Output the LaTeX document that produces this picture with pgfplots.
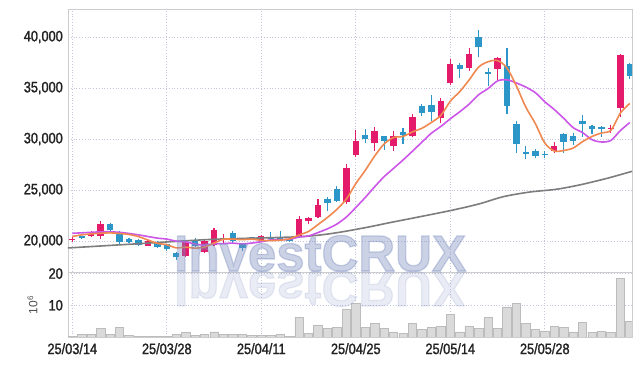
\documentclass[border=0pt]{standalone}
\usepackage{pgfplots}
\usepackage{pgfplotstable}
\pgfplotsset{compat=1.18}
\usepackage{fontspec}
\setmainfont{Liberation Sans}[FakeStretch=0.85, FakeBold=1.4]
\newfontfamily\wmfont{Liberation Sans}[BoldFeatures={FakeBold=2.5}]
\newfontfamily\plainfont{Liberation Sans}

\definecolor{cRed}{RGB}{228,26,106}
\definecolor{cBlue}{RGB}{44,150,200}
\definecolor{cOrange}{RGB}{240,136,80}
\definecolor{cPurple}{RGB}{203,86,232}
\definecolor{cGray}{RGB}{125,125,125}
\definecolor{gridc}{RGB}{196,198,222}
\definecolor{framec}{RGB}{205,205,205}
\definecolor{volfill}{RGB}{218,218,218}
\definecolor{voldraw}{RGB}{188,188,188}
\definecolor{wmc}{RGB}{120,138,189}
\definecolor{labc}{RGB}{34,34,34}

\pgfplotstableread{
x O H L C
0 20050 20420 19930 20200
2 20500 21000 20400 20650
3 20520 21960 20200 21670
8 19540 20100 19500 20000
12 18530 20120 18450 19930
14 18950 20100 18850 20000
15 19610 21250 19550 21110
16 20100 20700 19760 20260
20 20000 20600 19950 20490
24 20420 22480 20350 22130
25 21960 22380 21700 22220
26 22380 24090 22300 23530
29 23850 27550 23630 27130
30 28430 30880 28260 29830
32 29640 31200 28780 30780
34 29340 30800 28820 30290
36 30320 32420 30150 32190
39 32030 33980 31540 33760
40 35520 37840 35250 37320
42 36990 38890 36700 38330
45 36830 38010 35720 37910
51 28820 29740 28660 29310
57 30980 31370 30620 31100
58 33010 38300 32190 38240
}\redtab

\pgfplotstableread{
x O H L C
1 20420 20520 20220 20320
4 21670 21750 21000 21080
5 20750 20950 19750 19870
6 20170 20300 19850 19930
7 20070 20150 19500 19610
9 19930 20000 19350 19440
10 19680 19750 19050 19190
11 18850 18950 18150 18400
13 20000 20250 19450 19540
17 20750 20950 19850 20000
18 19680 19750 19050 19290
19 20300 20400 20150 20220
21 20360 20850 20000 20170
22 20420 21010 20100 20200
23 20200 20250 19900 19970
27 24120 24350 22900 23700
28 25100 25400 23850 23950
31 30390 30950 29600 30000
33 30290 30300 28960 29830
35 30690 31050 29500 30390
37 33240 33430 32290 32580
38 33330 34290 31790 32680
41 37250 37420 36000 36890
43 39970 40690 38070 38990
44 36600 36930 35200 36340
46 37160 38890 32420 33240
47 31470 31730 28630 29480
48 28700 29350 28030 28550
49 28820 29000 28100 28330
50 28550 28780 28100 28400
52 30490 30590 28660 29740
53 30290 30590 29460 29800
54 31790 32350 30170 31470
55 31270 31370 30520 30950
56 31150 31240 30200 31010
59 37320 37420 35880 36200
}\bluetab

\pgfplotstableread{
x y
0 20441
1 20600
2 20700
3 20760
4 20794
5 20738
6 20640
7 20432
8 20098
9 19770
10 19634
11 19328
12 19392
13 19300
14 19412
15 19796
16 20168
17 20182
18 20132
19 20184
20 20060
21 20042
22 20082
23 20218
24 20592
25 20938
26 21610
27 22310
28 23106
29 24106
30 25628
31 26922
32 28338
33 29514
34 30146
35 30258
36 30696
37 31056
38 31626
39 32320
40 33706
41 34646
42 35796
43 37058
44 37574
45 37692
46 36962
47 35192
48 33114
49 31512
50 29610
51 28824
52 28876
53 29116
54 29744
55 30254
56 30594
57 30856
58 32544
59 33490
}\maA

\pgfplotstableread{
x y
0 20755
1 20800
2 20850
3 20900
4 20900
5 20850
6 20740
7 20600
8 20440
9 20282
10 20186
11 19984
12 19912
13 19699
14 19591
15 19715
16 19748
17 19787
18 19716
19 19798
20 19928
21 20105
22 20132
23 20175
24 20388
25 20499
26 20826
27 21196
28 21662
29 22349
30 23283
31 24266
32 25324
33 26310
34 27126
35 27943
36 28809
37 29697
38 30570
39 31233
40 31982
41 32671
42 33426
43 34342
44 34947
45 35699
46 35804
47 35494
48 35086
49 34543
50 33651
51 32893
52 32034
53 31115
54 30628
55 29932
56 29709
57 29866
58 30830
59 31617
}\maB

\pgfplotstableread{
x y
-0.5 19330
0 19343
6.5 19706
13.5 20100
16.7 20220
24.1 20422
27.6 20755
31.2 21343
33.6 21800
36.8 22382
40.3 23039
43.1 23650
45.6 24343
48.4 24800
51.2 25069
53.7 25500
56.6 26147
59.3 26850
}\maC

\pgfplotstableread{
x v
0 0.3
1 0.76
2 0.76
3 2.65
4 0.76
5 2.97
6 0.44
7 0.3
8 0.15
9 0.15
10 0.3
11 0.9
12 1.4
13 0.5
14 0.8
15 1.6
16 0.76
17 0.76
18 0.76
19 0.6
20 0.44
21 0.44
22 0.76
23 0.2
24 6.3
25 1.1
26 3.8
27 2.65
28 2.97
29 8.6
30 10.5
31 2.97
32 4.2
33 2.65
34 1.58
35 1.26
36 4.2
37 2.3
38 2.97
39 3.4
40 7.1
41 1.58
42 3.4
43 2.65
44 6.1
45 2.65
46 9.5
47 10.5
48 4.2
49 2.3
50 1.9
51 3.4
52 2.97
53 1.58
54 4.5
55 1.4
56 1.7
57 1.4
58 18.4
59 5.0
}\voltab

\pgfplotsset{
  panel/.style={
    scale only axis, width=564pt,
    xmin=-0.455, xmax=59.23,
    xtick={0,10,20,30,40,50},
    grid=major,
    grid style={draw=gridc, line width=0.8pt, dash pattern=on 0.8pt off 2pt},
    axis line style={draw=framec, line width=0.8pt},
    major tick length=0pt,
    scaled y ticks=false,
    tick label style={font=\fontsize{15}{15}\selectfont, text=labc},
    yticklabel style={inner sep=0pt, xshift=-5pt},
    xticklabel style={inner sep=0pt, yshift=-6pt},
    /pgf/number format/assume math mode=true,
    /pgf/number format/1000 sep={,},
    clip=true,
  },
  wick/.style={draw=none, mark=none, forget plot,
    error bars/.cd, y dir=plus, y explicit, error mark=none,
    error bar style={draw=#1, line width=1.1pt, solid}},
  body/.style={draw=none, mark=none, forget plot,
    error bars/.cd, y dir=plus, y explicit, error mark=none,
    error bar style={draw=#1, line width=6.4pt, solid}},
}

\begin{document}
\begin{tikzpicture}
\path[use as bounding box] (0pt,0pt) rectangle (642pt,366pt);

\begin{axis}[panel, at={(68pt,94pt)}, anchor=south west,
  height=263pt, ymin=16960, ymax=42750,
  ytick={20000,25000,30000,35000,40000},
  xticklabels={}]
  % wicks
  \addplot[wick=cRed] table[x=x, y=L, y error expr=\thisrow{H}-\thisrow{L}] {\redtab};
  \addplot[wick=cBlue] table[x=x, y=L, y error expr=\thisrow{H}-\thisrow{L}] {\bluetab};
  % bodies
  \addplot[body=cRed] table[x=x, y=O, y error expr={max(\thisrow{C}-\thisrow{O},130)}] {\redtab};
  \addplot[body=cBlue] table[x=x, y=C, y error expr={max(\thisrow{O}-\thisrow{C},130)}] {\bluetab};
  % moving averages
  \addplot[cGray, line width=1.6pt, smooth, mark=none] table[x=x, y=y] {\maC};
  \addplot[cPurple, line width=1.6pt, smooth, mark=none] table[x=x, y=y] {\maB};
  \addplot[cOrange, line width=1.6pt, smooth, mark=none] table[x=x, y=y] {\maA};
\end{axis}

\begin{axis}[panel, at={(68pt,29pt)}, anchor=south west,
  height=65pt, ymin=0, ymax=20.5,
  ytick={10,20},
  xticklabels={25/03/14,25/03/28,25/04/11,25/04/25,25/05/14,25/05/28}]
  \addplot[ybar, bar width=8.4pt, bar shift=0pt, fill=volfill, draw=voldraw, line width=0.6pt] table[x=x, y=v] {\voltab};
\end{axis}

% watermark
\node[anchor=base west, inner sep=0pt, text=wmc, opacity=0.38,
  font=\wmfont\bfseries\fontsize{51}{51}\selectfont] at (174pt,95pt) {InvestCRUX};
\node[anchor=base west, inner sep=0pt, text=wmc, opacity=0.16,
  font=\wmfont\bfseries\fontsize{51}{51}\selectfont] at (174pt,95pt) {\scalebox{1}[-1]{InvestCRUX}};

% volume unit label
\node[rotate=90, inner sep=0pt, text=labc!80, font=\plainfont\fontsize{12}{12}\selectfont] at (32.5pt,61pt) {10\textsuperscript{6}};
\end{tikzpicture}
\end{document}
